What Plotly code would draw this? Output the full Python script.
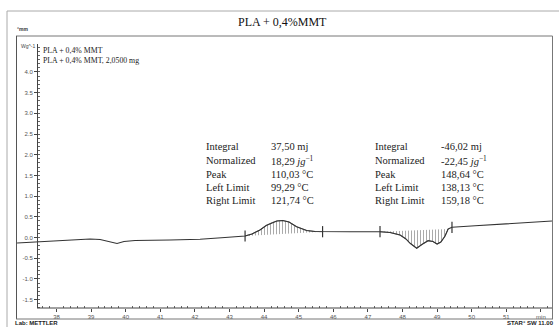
import plotly.graph_objects as go

# ---------------- data ----------------
time_min = [36.86, 37.44, 38.10, 38.97, 39.26, 39.49, 39.75, 39.95, 40.27, 41.28,
            42.15, 42.87, 43.45, 43.65, 43.88, 44.06, 44.22, 44.37, 44.54, 44.72,
            44.94, 45.23, 45.47, 45.69, 46.48, 47.35, 47.64, 47.93, 48.10, 48.22,
            48.41, 48.56, 48.74, 48.88, 49.00, 49.11, 49.23, 49.32, 49.43, 50.10,
            50.82, 51.54, 52.32]
heat_flow = [-0.133, -0.109, -0.072, -0.036, -0.048, -0.097, -0.145, -0.097, -0.072, -0.060,
             -0.043, 0.000, 0.036, 0.085, 0.181, 0.290, 0.357, 0.400, 0.410, 0.374,
             0.261, 0.169, 0.145, 0.140, 0.140, 0.140, 0.121, 0.060, -0.036, -0.140,
             -0.261, -0.169, -0.077, -0.097, -0.157, -0.109, 0.036, 0.205, 0.246, 0.283,
             0.319, 0.355, 0.399]

peak1_limits = [43.45, 45.69]
peak2_limits = [47.35, 49.32]
limit_ticks_time = [43.45, 45.69, 47.35, 49.43]
limit_ticks_value = [0.036, 0.140, 0.140, 0.246]

x_tick_vals = [38, 39, 40, 41, 42, 43, 44, 45, 46, 47, 48, 49, 50, 51, 52]
x_tick_text = ["38", "39", "40", "41", "42", "43", "44", "45", "46", "47", "48", "49", "50", "51", "min"]
y_tick_vals = [-1.5, -1.0, -0.5, 0.0, 0.5, 1.0, 1.5, 2.0, 2.5, 3.0, 3.5, 4.0]
y_tick_text = ["-1.5", "-1.0", "-0.5", "0.0", "0.5", "1.0", "1.5", "2.0", "2.5", "3.0", "3.5", "4.0"]

peak1_labels = ["Integral", "Normalized", "Peak", "Left Limit", "Right Limit"]
peak1_values = ["37,50 mj", "18,29 <i>jg</i><sup>−1</sup>", "110,03 °C", "99,29 °C", "121,74 °C"]
peak2_labels = ["Integral", "Normalized", "Peak", "Left Limit", "Right Limit"]
peak2_values = ["-46,02 mj", "-22,45 <i>jg</i><sup>−1</sup>", "148,64 °C", "138,13 °C", "159,18 °C"]

title_text = "PLA + 0,4%MMT"
legend_lines = ["PLA + 0,4% MMT", "PLA + 0,4% MMT, 2,0500 mg"]

# ---------------- layout geometry ----------------
W, H = 559, 327
def fx(px): return px / W
def fy(py): return 1 - py / H

PX_PER_MIN = 34.6
X38_PX = 56.5
def px_to_min(px): return 38 + (px - X38_PX) / PX_PER_MIN
Y0_PX = 237.5
PX_PER_UNIT = 41.4
def py_to_val(py): return (Y0_PX - py) / PX_PER_UNIT

left_px, yaxis_px, right_px = 17, 37, 552
top_py, bottom_py = 44, 308

x_start = px_to_min(yaxis_px)
x_end = px_to_min(right_px)
minor_vals = [round(37.0 + 0.2 * k, 2) for k in range(0, 80)]
minor_vals = [v for v in minor_vals if x_start < v < x_end and abs(v - round(v)) > 1e-6]

fig = go.Figure()
curve_color = "#333333"

def segment(limits):
    xs, ys = [], []
    for t, v in zip(time_min, heat_flow):
        if limits[0] - 1e-6 <= t <= limits[1] + 1e-6:
            xs.append(t); ys.append(v)
    return xs, ys

for lim in (peak1_limits, peak2_limits):
    sx, sy = segment(lim)
    fig.add_trace(go.Scatter(
        x=sx, y=sy, mode="lines", fill="toself",
        line=dict(color="#555555", width=0.8),
        fillcolor="rgba(0,0,0,0)",
        fillpattern=dict(shape="|", size=3, solidity=0.35, fgcolor="#555555",
                         bgcolor="rgba(255,255,255,0)"),
        showlegend=False, hoverinfo="skip"))

fig.add_trace(go.Scatter(x=time_min, y=heat_flow, mode="lines",
                         line=dict(color=curve_color, width=1.1),
                         showlegend=False, hoverinfo="skip"))

fig.add_trace(go.Scatter(x=limit_ticks_time, y=limit_ticks_value, mode="markers",
                         marker=dict(symbol="line-ns", size=8,
                                     line=dict(color=curve_color, width=1.2)),
                         showlegend=False, hoverinfo="skip"))

tick_font = dict(family="Liberation Sans, Arial", size=6, color="#555555")

fig.update_layout(
    width=W, height=H,
    margin=dict(l=0, r=0, t=0, b=0),
    paper_bgcolor="white", plot_bgcolor="rgba(0,0,0,0)",
    xaxis=dict(domain=[fx(left_px), fx(right_px)],
               range=[px_to_min(left_px), x_end],
               anchor="y", showline=False,
               tickmode="array", tickvals=x_tick_vals, ticktext=x_tick_text,
               ticks="outside", ticklen=3, tickcolor="#444444",
               minor=dict(tickmode="array", tickvals=minor_vals, ticks="inside",
                          ticklen=2, tickcolor="#666666", showgrid=False),
               tickfont=tick_font, showgrid=False, zeroline=False),
    yaxis=dict(domain=[fy(bottom_py), fy(top_py)],
               range=[py_to_val(bottom_py), py_to_val(top_py)],
               anchor="free", position=fx(yaxis_px),
               showline=True, linecolor="#444444", linewidth=1,
               tickmode="array", tickvals=y_tick_vals, ticktext=y_tick_text,
               ticks="outside", ticklen=3, tickcolor="#444444",
               minor=dict(dtick=0.1, ticks="inside", ticklen=2, tickcolor="#666666",
                          showgrid=False),
               tickfont=tick_font, showgrid=False, zeroline=False),
)

serif = "Liberation Serif, Times New Roman, serif"
annotations = []
annotations.append(dict(x=fx(282), y=fy(22), xref="paper", yref="paper",
                        text=title_text, showarrow=False,
                        font=dict(family=serif, size=12, color="#111111"),
                        xanchor="center", yanchor="middle"))
for i, line in enumerate(legend_lines):
    annotations.append(dict(x=fx(41), y=fy(51 + 9 * i), xref="paper", yref="paper",
                            text=line, showarrow=False,
                            font=dict(family=serif, size=7.8, color="#222222"),
                            xanchor="left", yanchor="middle"))
row_py = [146.5, 160.5, 174.0, 187.5, 200.7]
for labels, values, lx, vx in ((peak1_labels, peak1_values, 204, 269),
                               (peak2_labels, peak2_values, 373, 439)):
    for i, (lab, val) in enumerate(zip(labels, values)):
        annotations.append(dict(x=fx(lx), y=fy(row_py[i]), xref="paper", yref="paper",
                                text=lab, showarrow=False,
                                font=dict(family=serif, size=10.5, color="#222222"),
                                xanchor="left", yanchor="middle"))
        annotations.append(dict(x=fx(vx), y=fy(row_py[i]), xref="paper", yref="paper",
                                text=val, showarrow=False,
                                font=dict(family=serif, size=10.5, color="#222222"),
                                xanchor="left", yanchor="middle"))
annotations.append(dict(x=fx(19), y=fy(46), xref="paper", yref="paper",
                        text="Wg^-1", showarrow=False,
                        font=dict(family="Liberation Sans, Arial", size=5, color="#444444"),
                        xanchor="left", yanchor="middle"))
annotations.append(dict(x=fx(15), y=fy(29), xref="paper", yref="paper",
                        text="<b>°mm</b>", showarrow=False,
                        font=dict(family="Liberation Sans, Arial", size=5, color="#333333"),
                        xanchor="left", yanchor="middle"))
annotations.append(dict(x=fx(13), y=fy(322.5), xref="paper", yref="paper",
                        text="<b>Lab: METTLER</b>", showarrow=False,
                        font=dict(family="Liberation Sans, Arial", size=6, color="#222222"),
                        xanchor="left", yanchor="middle"))
annotations.append(dict(x=fx(556), y=fy(322.5), xref="paper", yref="paper",
                        text="<b>STAR° SW 11.00</b>", showarrow=False,
                        font=dict(family="Liberation Sans, Arial", size=6, color="#222222"),
                        xanchor="right", yanchor="middle"))
fig.update_layout(annotations=annotations)

shapes = [
    # x-axis line (starts at the y axis)
    dict(type="line", xref="x", yref="paper", x0=x_start, x1=x_end,
         y0=fy(bottom_py), y1=fy(bottom_py), line=dict(color="#444444", width=1)),
    # outer page border
    dict(type="line", xref="paper", yref="paper", x0=fx(7), x1=fx(559), y0=fy(11), y1=fy(11),
         line=dict(color="#aaaaaa", width=1)),
    dict(type="line", xref="paper", yref="paper", x0=fx(7), x1=fx(7), y0=fy(11), y1=fy(327),
         line=dict(color="#aaaaaa", width=1)),
    # inner frame
    dict(type="line", xref="paper", yref="paper", x0=fx(16), x1=fx(552.5), y0=fy(36), y1=fy(36),
         line=dict(color="#777777", width=1)),
    dict(type="line", xref="paper", yref="paper", x0=fx(16.5), x1=fx(16.5), y0=fy(36), y1=fy(319),
         line=dict(color="#555555", width=1)),
    dict(type="line", xref="paper", yref="paper", x0=fx(552.5), x1=fx(552.5), y0=fy(36), y1=fy(319),
         line=dict(color="#777777", width=1)),
    dict(type="line", xref="paper", yref="paper", x0=fx(16), x1=fx(553), y0=fy(319), y1=fy(319),
         line=dict(color="#777777", width=1)),
]
fig.update_layout(shapes=shapes)

fig.write_html("out.html",
               config={"displayModeBar": False},
               post_script="document.body.style.margin='0';document.body.style.overflow='hidden';")
